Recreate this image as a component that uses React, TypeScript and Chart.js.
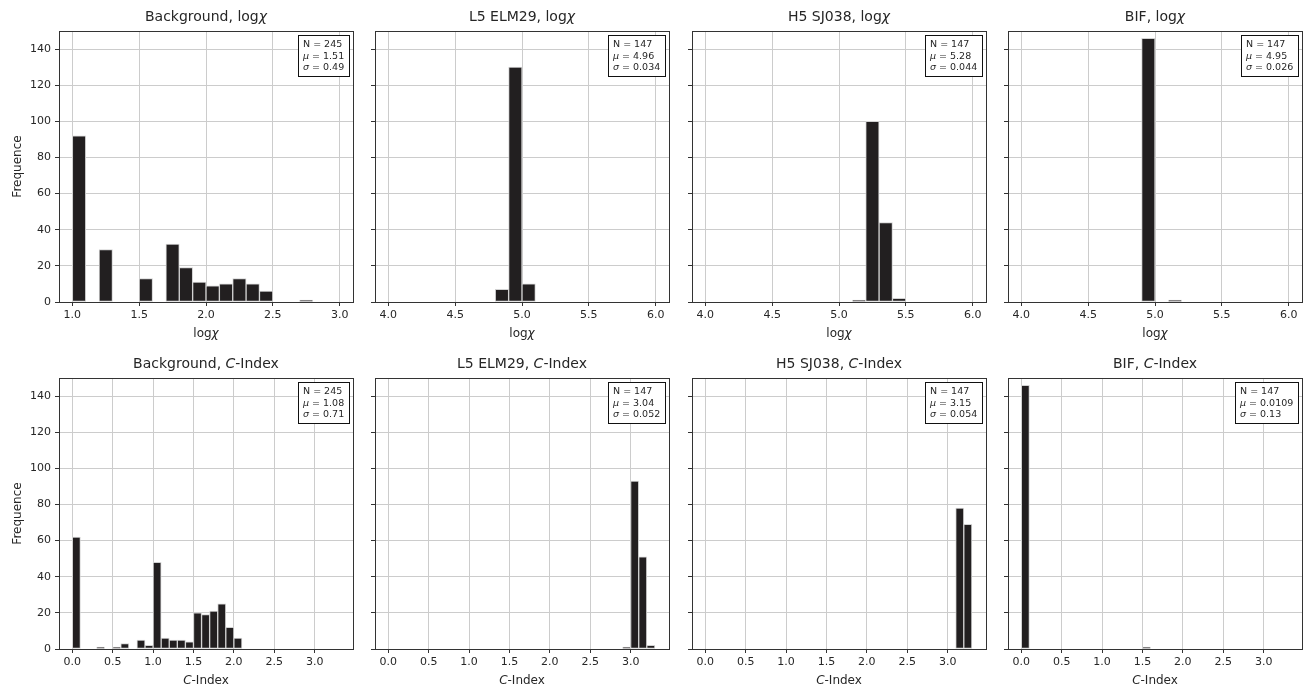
import React, { useEffect, useRef } from "react";
import { Chart, registerables } from "chart.js";

Chart.register(...registerables);

// ---------------- data ----------------
const BIN_WIDTH = 0.1;

const BG_LOG_BINS = [1.0, 1.1, 1.2, 1.3, 1.4, 1.5, 1.6, 1.7, 1.8, 1.9, 2.0, 2.1, 2.2, 2.3, 2.4, 2.5, 2.6, 2.7, 2.8, 2.9];
const LOG_BINS = [4.0, 4.1, 4.2, 4.3, 4.4, 4.5, 4.6, 4.7, 4.8, 4.9, 5.0, 5.1, 5.2, 5.3, 5.4, 5.5, 5.6, 5.7, 5.8, 5.9];
const C_BINS = [
  0.0, 0.1, 0.2, 0.3, 0.4, 0.5, 0.6, 0.7, 0.8, 0.9, 1.0, 1.1, 1.2, 1.3, 1.4, 1.5, 1.6,
  1.7, 1.8, 1.9, 2.0, 2.1, 2.2, 2.3, 2.4, 2.5, 2.6, 2.7, 2.8, 2.9, 3.0, 3.1, 3.2,
];

const bgLogCounts = [92, 0, 29, 0, 0, 13, 0, 32, 19, 11, 9, 10, 13, 10, 6, 0, 0, 1, 0, 0];
const l5LogCounts = [0, 0, 0, 0, 0, 0, 0, 0, 7, 130, 10, 0, 0, 0, 0, 0, 0, 0, 0, 0];
const h5LogCounts = [0, 0, 0, 0, 0, 0, 0, 0, 0, 0, 0, 1, 100, 44, 2, 0, 0, 0, 0, 0];
const bifLogCounts = [0, 0, 0, 0, 0, 0, 0, 0, 0, 146, 0, 1, 0, 0, 0, 0, 0, 0, 0, 0];

const bgCCounts = [62, 0, 0, 1, 0, 1, 3, 0, 5, 2, 48, 6, 5, 5, 4, 20, 19, 21, 25, 12, 6, 0, 0, 0, 0, 0, 0, 0, 0, 0, 0, 0, 0];
const l5CCounts = [0, 0, 0, 0, 0, 0, 0, 0, 0, 0, 0, 0, 0, 0, 0, 0, 0, 0, 0, 0, 0, 0, 0, 0, 0, 0, 0, 0, 0, 1, 93, 51, 2];
const h5CCounts = [0, 0, 0, 0, 0, 0, 0, 0, 0, 0, 0, 0, 0, 0, 0, 0, 0, 0, 0, 0, 0, 0, 0, 0, 0, 0, 0, 0, 0, 0, 0, 78, 69];
const bifCCounts = [146, 0, 0, 0, 0, 0, 0, 0, 0, 0, 0, 0, 0, 0, 0, 1, 0, 0, 0, 0, 0, 0, 0, 0, 0, 0, 0, 0, 0, 0, 0, 0, 0];

const BG_LOG_TICKS = [1.0, 1.5, 2.0, 2.5, 3.0];
const LOG_TICKS = [4.0, 4.5, 5.0, 5.5, 6.0];
const C_TICKS = [0.0, 0.5, 1.0, 1.5, 2.0, 2.5, 3.0];
const Y_TICKS = [0, 20, 40, 60, 80, 100, 120, 140];

const SAMPLES = ["Background", "L5 ELM29", "H5 SJ038", "BIF"];
const LOG_N = ["245", "147", "147", "147"];
const LOG_MU = ["1.51", "4.96", "5.28", "4.95"];
const LOG_SIGMA = ["0.49", "0.034", "0.044", "0.026"];
const C_N = ["245", "147", "147", "147"];
const C_MU = ["1.08", "3.04", "3.15", "0.0109"];
const C_SIGMA = ["0.71", "0.052", "0.054", "0.13"];

// ---------------- style / layout ----------------
const FONT = "'DejaVu Sans', 'Liberation Sans', sans-serif";
const TEXT = "#262626";
const SPINE = "#333333";
const GRID = "#cccccc";
const BAR = "#221f20";
const BAR_EDGE = "#d2d2d2";

const PLOT_LEFT = [59, 375, 692, 1008];
const PLOT_TOP = [31, 378];
const PLOT_W = 294;
const PLOT_H = 271;
const PAD_L = 55;
const PAD_T = 31;
const PAD_R = 8;
const PAD_B = 45;

type Seg = { t: string; i?: boolean };

function drawRich(ctx: CanvasRenderingContext2D, segs: Seg[], x: number, y: number, size: number, color: string, align: "center" | "left") {
  ctx.save();
  ctx.fillStyle = color;
  ctx.textBaseline = "alphabetic";
  ctx.textAlign = "left";
  const fonts = segs.map((s) => `${s.i ? "italic " : ""}${size}px ${FONT}`);
  const widths = segs.map((s, k) => {
    ctx.font = fonts[k];
    return ctx.measureText(s.t).width;
  });
  const total = widths.reduce((a, b) => a + b, 0);
  let cx = align === "center" ? x - total / 2 : x;
  segs.forEach((s, k) => {
    ctx.font = fonts[k];
    ctx.fillText(s.t, cx, y);
    cx += widths[k];
  });
  ctx.restore();
  return total;
}

function measureRich(ctx: CanvasRenderingContext2D, segs: Seg[], size: number) {
  let w = 0;
  ctx.save();
  segs.forEach((s) => {
    ctx.font = `${s.i ? "italic " : ""}${size}px ${FONT}`;
    w += ctx.measureText(s.t).width;
  });
  ctx.restore();
  return w;
}

type PanelProps = {
  row: number;
  col: number;
  bins: number[];
  counts: number[];
  xTicks: number[];
  xMin: number;
  xMax: number;
  title: Seg[];
  xLabel: Seg[];
  stats: Seg[][];
};

function Panel({ row, col, bins, counts, xTicks, xMin, xMax, title, xLabel, stats }: PanelProps) {
  const ref = useRef<HTMLCanvasElement | null>(null);
  const showY = col === 0;
  const cw = PAD_L + PLOT_W + PAD_R;
  const ch = PAD_T + PLOT_H + PAD_B;

  useEffect(() => {
    if (!ref.current) return;
    const decor = {
      id: "decor",
      afterDraw(chart: any) {
        const ctx: CanvasRenderingContext2D = chart.ctx;
        const a = chart.chartArea;
        // spines (all four sides)
        ctx.save();
        ctx.strokeStyle = SPINE;
        ctx.lineWidth = 1;
        ctx.strokeRect(Math.round(a.left) + 0.5, Math.round(a.top) + 0.5, Math.round(a.right - a.left), Math.round(a.bottom - a.top));
        ctx.restore();
        // title
        drawRich(ctx, title, (a.left + a.right) / 2, a.top - 10, 14, TEXT, "center");
        // x label
        drawRich(ctx, xLabel, (a.left + a.right) / 2, a.bottom + 35, 12, TEXT, "center");
        // stats box
        const fs = 9.5;
        const lh = 11.5;
        const maxW = Math.max(...stats.map((l) => measureRich(ctx, l, fs)));
        const bw = Math.round(maxW + 10);
        const bh = Math.round(lh * 3 + 6);
        const bx = Math.round(a.right - 4 - bw);
        const by = Math.round(a.top + 4);
        ctx.save();
        ctx.fillStyle = "#ffffff";
        ctx.fillRect(bx, by, bw, bh);
        ctx.strokeStyle = "#111111";
        ctx.lineWidth = 1;
        ctx.strokeRect(bx + 0.5, by + 0.5, bw, bh);
        ctx.restore();
        stats.forEach((l, k) => {
          drawRich(ctx, l, bx + 5, by + 3 + lh * (k + 1) - 2.5, fs, TEXT, "left");
        });
      },
    };

    const chart = new Chart(ref.current, {
      type: "bar",
      data: {
        datasets: [
          {
            data: bins.map((b, i) => ({ x: b + BIN_WIDTH / 2, y: counts[i] })),
            backgroundColor: BAR,
            borderColor: BAR_EDGE,
            borderWidth: 1,
            borderSkipped: false,
            barPercentage: 1,
            categoryPercentage: 1,
          } as any,
        ],
      },
      options: {
        animation: false,
        responsive: false,
        maintainAspectRatio: false,
        devicePixelRatio: 1,
        events: [],
        layout: { padding: { top: PAD_T, right: PAD_R, left: 0, bottom: 0 } },
        plugins: {
          legend: { display: false },
          tooltip: { enabled: false },
          title: { display: false },
        },
        scales: {
          x: {
            type: "linear",
            min: xMin,
            max: xMax,
            offset: false,
            z: 1,
            afterBuildTicks: (s: any) => {
              s.ticks = xTicks.map((v) => ({ value: v }));
            },
            afterFit: (s: any) => {
              s.height = PAD_B;
            },
            grid: { color: GRID, lineWidth: 1, offset: false, drawTicks: true, tickLength: 4, tickColor: SPINE, tickWidth: 1 },
            border: { display: true, color: SPINE, width: 1 },
            ticks: {
              callback: (v: any) => Number(v).toFixed(1),
              font: { family: FONT, size: 11 },
              color: TEXT,
              padding: 3,
              maxRotation: 0,
              autoSkip: false,
            },
          },
          y: {
            type: "linear",
            min: 0,
            max: 150,
            z: 1,
            afterBuildTicks: (s: any) => {
              s.ticks = Y_TICKS.map((v) => ({ value: v }));
            },
            afterFit: (s: any) => {
              s.width = PAD_L;
            },
            grid: { color: GRID, lineWidth: 1, drawTicks: true, tickLength: 4, tickColor: SPINE, tickWidth: 1 },
            border: { display: true, color: SPINE, width: 1 },
            title: {
              display: showY,
              text: "Frequence",
              color: TEXT,
              font: { family: FONT, size: 12 },
              padding: { top: 7, bottom: 0 },
            },
            ticks: {
              callback: (v: any) => (showY ? String(v) : ""),
              font: { family: FONT, size: 11 },
              color: TEXT,
              padding: 4,
              autoSkip: false,
            },
          },
        },
      } as any,
      plugins: [decor],
    });
    return () => chart.destroy();
  }, []);

  return (
    <canvas
      ref={ref}
      width={cw}
      height={ch}
      style={{
        position: "absolute",
        left: PLOT_LEFT[col] - PAD_L,
        top: PLOT_TOP[row] - PAD_T,
        width: cw,
        height: ch,
      }}
    />
  );
}

const LOG_LABEL: Seg[] = [{ t: "log" }, { t: "χ", i: true }];
const C_LABEL: Seg[] = [{ t: "C", i: true }, { t: "-Index" }];

function statSegs(n: string, mu: string, sigma: string): Seg[][] {
  return [
    [{ t: `N = ${n}` }],
    [{ t: "μ", i: true }, { t: ` = ${mu}` }],
    [{ t: "σ", i: true }, { t: ` = ${sigma}` }],
  ];
}

export default function App() {
  const logCounts = [bgLogCounts, l5LogCounts, h5LogCounts, bifLogCounts];
  const cCounts = [bgCCounts, l5CCounts, h5CCounts, bifCCounts];
  return (
    <div style={{ position: "fixed", left: 0, top: 0, width: 1309, height: 688, background: "#ffffff", overflow: "hidden" }}>
      {SAMPLES.map((name, col) => (
        <Panel
          key={`log-${col}`}
          row={0}
          col={col}
          bins={col === 0 ? BG_LOG_BINS : LOG_BINS}
          counts={logCounts[col]}
          xTicks={col === 0 ? BG_LOG_TICKS : LOG_TICKS}
          xMin={col === 0 ? 0.9 : 3.9}
          xMax={col === 0 ? 3.1 : 6.1}
          title={[{ t: `${name}, log` }, { t: "χ", i: true }]}
          xLabel={LOG_LABEL}
          stats={statSegs(LOG_N[col], LOG_MU[col], LOG_SIGMA[col])}
        />
      ))}
      {SAMPLES.map((name, col) => (
        <Panel
          key={`c-${col}`}
          row={1}
          col={col}
          bins={C_BINS}
          counts={cCounts[col]}
          xTicks={C_TICKS}
          xMin={-0.165}
          xMax={3.475}
          title={[{ t: `${name}, ` }, { t: "C", i: true }, { t: "-Index" }]}
          xLabel={C_LABEL}
          stats={statSegs(C_N[col], C_MU[col], C_SIGMA[col])}
        />
      ))}
    </div>
  );
}
